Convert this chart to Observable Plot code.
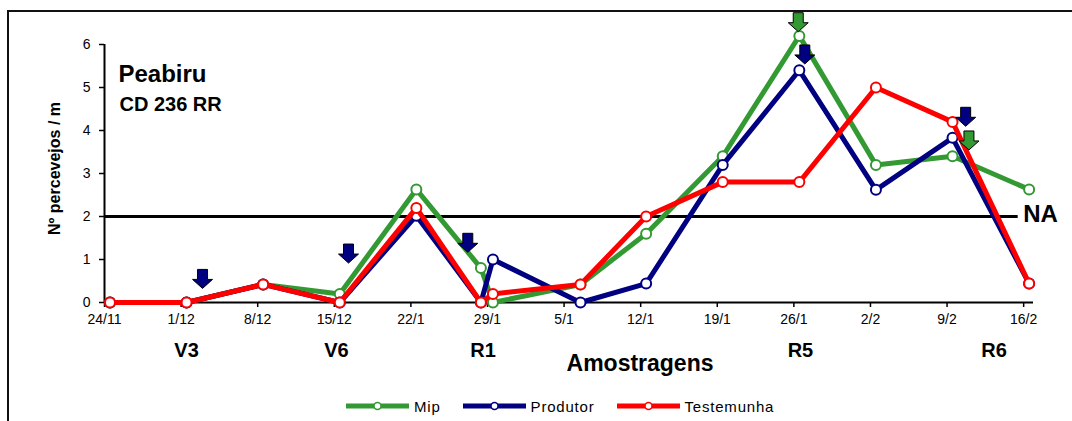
<!DOCTYPE html>
<html>
<head>
<meta charset="utf-8">
<script src="https://cdn.jsdelivr.net/npm/d3@7"></script>
<script src="https://cdn.jsdelivr.net/npm/@observablehq/plot@0.6"></script>
<style>
  body { margin: 0; background: #fff; font-family: "Liberation Sans", Arial, sans-serif; }
  #wrap { position: relative; width: 1072px; height: 421px; overflow: hidden; }
  #frame { position: absolute; left: 7px; top: 10px; width: 1200px; height: 600px; border: 2px solid #111; box-sizing: border-box; pointer-events: none; }
  #legend { display: flex; align-items: center; padding-left: 346px; margin-top: 8px; height: 16px; font-size: 15px; letter-spacing: 0.8px; color: #000; }
  .item { display: flex; align-items: center; margin-right: 22px; }
  .item svg { margin-right: 5px; }
</style>
</head>
<body>
<div id="wrap">
  <div id="chart"></div>
  <div id="legend"></div>
  <div id="frame"></div>
</div>
<script>
// ---- data ----
const tickDays = [0, 7, 14, 21, 28, 35, 42, 49, 56, 63, 70, 77, 84];
const tickLabels = ["24/11", "1/12", "8/12", "15/12", "22/1", "29/1", "5/1", "12/1", "19/1", "26/1", "2/2", "9/2", "16/2"];
const sampleDays = [0.5, 7.5, 14.5, 21.5, 28.5, 34.4, 35.5, 43.5, 49.5, 56.5, 63.5, 70.5, 77.5, 84.5];
const mip        = [0, 0, 0.42, 0.2, 2.63, 0.8, 0, 0.42, 1.6, 3.4, 6.2, 3.2, 3.4, 2.63];
const produtor   = [0, 0, 0.42, 0, 2.02, 0, 1.0, 0, 0.44, 3.2, 5.4, 2.62, 3.83, 0.44];
const testemunha = [0, 0, 0.42, 0, 2.2, 0, 0.2, 0.42, 2.0, 2.8, 2.8, 5.0, 4.2, 0.44];
const seriesNames = ["Mip", "Produtor", "Testemunha"];
const seriesColors = ["#339933", "#000080", "#ff0000"];
const stageDays = [7.5, 21.2, 34.6, 63.6, 81.3];
const stageLabels = ["V3", "V6", "R1", "R5", "R6"];
const arrowDays   = [8.96, 22.3, 33.2, 63.4, 64.0, 78.7, 79.0];
const arrowLevels = [0.56, 1.15, 1.40, 6.53, 5.78, 4.33, 3.78];
const arrowSeries = ["Produtor", "Produtor", "Produtor", "Mip", "Produtor", "Produtor", "Mip"];
const naLevel = 2;
const naEndDay = 83.5;
const yTicks = [0, 1, 2, 3, 4, 5, 6];
const title = "Peabiru";
const subtitle = "CD 236 RR";
const yLabel = "Nº percevejos / m";
const xLabel = "Amostragens";

// ---- build ----
const seriesValues = [mip, produtor, testemunha];
const rows = [];
seriesNames.forEach((s, k) => sampleDays.forEach((d, i) => rows.push({series: s, day: d, value: seriesValues[k][i]})));
const arrows = arrowDays.map((d, i) => ({day: d, value: arrowLevels[i], series: arrowSeries[i]}));
const stages = stageDays.map((d, i) => ({day: d, label: stageLabels[i]}));

const arrowShape = {
  draw(ctx) {
    ctx.moveTo(-5, -9); ctx.lineTo(5, -9); ctx.lineTo(5, 1); ctx.lineTo(10, 1);
    ctx.lineTo(0, 10); ctx.lineTo(-10, 1); ctx.lineTo(-5, 1); ctx.closePath();
  }
};

const seriesMarks = seriesNames.flatMap(s => [
  Plot.line(rows.filter(r => r.series === s), {x: "day", y: "value", stroke: "series", strokeWidth: 5, strokeLinejoin: "miter", strokeLinecap: "butt"}),
  Plot.dot(rows.filter(r => r.series === s), {x: "day", y: "value", stroke: "series", fill: "white", strokeWidth: 2, r: 5})
]);

const chart = Plot.plot({
  width: 1072, height: 390,
  marginLeft: 104, marginRight: 39, marginTop: 44, marginBottom: 88,
  x: {domain: [0, 84.9]},
  y: {domain: [0, 6]},
  color: {domain: seriesNames, range: seriesColors},
  style: {fontFamily: "'Liberation Sans', Arial, sans-serif", fontSize: "14px", color: "#000", background: "transparent", overflow: "visible"},
  marks: [
    Plot.axisY(yTicks, {tickSize: 5, tickPadding: 9, label: null, fontSize: 14, strokeWidth: 1.5}),
    Plot.axisX(tickDays, {tickSize: 5, tickPadding: 7, label: null, fontSize: 14, letterSpacing: 0.5, strokeWidth: 1.5,
      tickFormat: d => tickLabels[tickDays.indexOf(d)]}),
    Plot.ruleY([0], {strokeWidth: 2}),
    Plot.ruleX([0], {strokeWidth: 2}),
    Plot.ruleY([naLevel], {x1: 0, x2: naEndDay, strokeWidth: 3}),
    Plot.text(["NA"], {x: naEndDay, y: naLevel, dx: 5, dy: -2, textAnchor: "start", fontWeight: "bold", fontSize: 24}),
    ...seriesMarks,
    Plot.dot(arrows, {x: "day", y: "value", fill: "series", stroke: "black", strokeWidth: 1, symbol: arrowShape}),
    Plot.text(stages, {x: "day", y: () => 0, text: "label", dy: 48, fontWeight: "bold", fontSize: 20}),
    Plot.text([xLabel], {frameAnchor: "bottom", dx: 71, dy: 68, fontWeight: "bold", fontSize: 23}),
    Plot.text([yLabel], {frameAnchor: "left", textAnchor: "middle", rotate: -90, dx: -50, dy: -5, fontWeight: "bold", fontSize: 16, letterSpacing: 3.2}),
    Plot.text([title], {frameAnchor: "top-left", dx: 14, dy: 20, textAnchor: "start", fontWeight: "bold", fontSize: 24, letterSpacing: 1}),
    Plot.text([subtitle], {frameAnchor: "top-left", dx: 15, dy: 52, textAnchor: "start", fontWeight: "bold", fontSize: 20})
  ]
});
document.getElementById("chart").appendChild(chart);

// legend
const legend = document.getElementById("legend");
seriesNames.forEach((s, i) => {
  const item = document.createElement("div");
  item.className = "item";
  item.innerHTML = `<svg width="63" height="12"><line x1="0" y1="6" x2="63" y2="6" stroke="${seriesColors[i]}" stroke-width="5"/><circle cx="31.5" cy="6" r="3.5" fill="white" stroke="${seriesColors[i]}" stroke-width="1.5"/></svg><span>${s}</span>`;
  legend.appendChild(item);
});
</script>
</body>
</html>
